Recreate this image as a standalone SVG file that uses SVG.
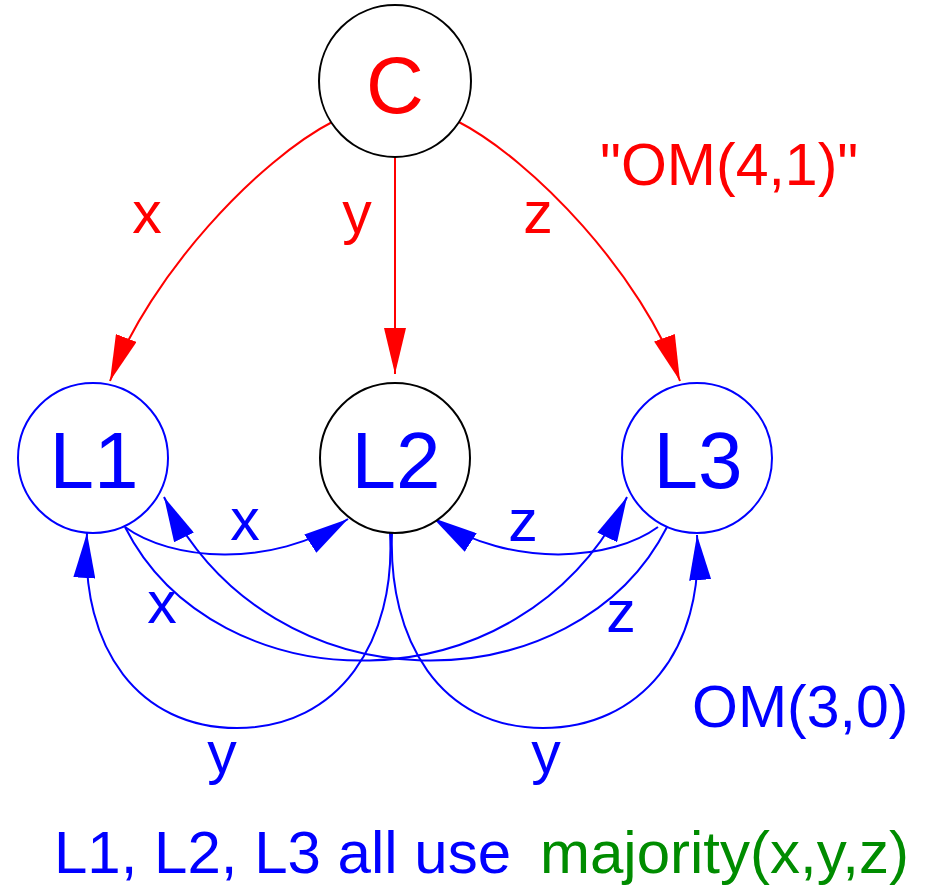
<svg xmlns="http://www.w3.org/2000/svg" width="927" height="887" viewBox="0 0 927 887">
<defs>
<style>
text{font-family:"Liberation Sans",Arial,sans-serif;}
.node{fill:#fff;stroke-width:2;}
.nl{font-size:80px;text-anchor:middle;}
.lbl{font-size:59px;text-anchor:middle;}
.red{fill:#ff0000;}
.blue{fill:#0000ff;}
.green{fill:#008c00;}
.er{fill:none;stroke:#ff0000;stroke-width:2;marker-end:url(#ar);}
.eb{fill:none;stroke:#0000ff;stroke-width:2;marker-end:url(#ab);}
</style>
<marker id="ar" markerUnits="userSpaceOnUse" viewBox="0 0 46 22" refX="46" refY="11" markerWidth="46" markerHeight="22" orient="auto"><path d="M0,0 L46,11 L0,22 z" fill="#ff0000"/></marker>
<marker id="ab" markerUnits="userSpaceOnUse" viewBox="0 0 45 22" refX="45" refY="11" markerWidth="45" markerHeight="22" orient="auto"><path d="M0,0 L45,11 L0,22 z" fill="#0000ff"/></marker>
</defs>
<rect width="927" height="887" fill="#fff"/>
<g id="connectors">
<path class="er" d="M334,121 C258,160 150,275 110,381"/>
<path class="er" d="M395,157 L395,374"/>
<path class="er" d="M457,121 C533,160 642,275 680,381"/>
<path class="eb" d="M125,527 C170,560 270,570 348,519"/>
<path class="eb" d="M658,527 C613,560 513,570 433,518"/>
<path class="eb" d="M125,527 C215,705 520,715 627,497"/>
<path class="eb" d="M667,527 C577,705 272,715 164,497"/>
<path class="eb" d="M390,533 C396,640 340,728 237,728 C140,728 80,650 87,533"/>
<path class="eb" d="M392,533 C388,640 440,728 543,728 C640,728 705,650 697,535"/>
</g>
<g id="C"><circle class="node" cx="395" cy="81" r="76" stroke="#000"/><text class="nl red" x="395" y="113">C</text></g>
<g id="L1"><circle class="node" cx="93" cy="458" r="75" stroke="#0000ff"/><text class="nl blue" x="94" y="488">L1</text></g>
<g id="L2"><circle class="node" cx="395" cy="458" r="75" stroke="#000"/><text class="nl blue" x="396" y="488">L2</text></g>
<g id="L3"><circle class="node" cx="697" cy="458" r="75" stroke="#0000ff"/><text class="nl blue" x="698" y="488">L3</text></g>
<g id="labels">
<text class="lbl red" x="147" y="233">x</text>
<text class="lbl red" x="357" y="233">y</text>
<text class="lbl red" x="538" y="233">z</text>
<text class="red" x="600" y="185" font-size="59">"OM(4,1)"</text>
<text class="lbl blue" x="245" y="540">x</text>
<text class="lbl blue" x="162" y="623">x</text>
<text class="lbl blue" x="523" y="541">z</text>
<text class="lbl blue" x="621" y="632">z</text>
<text class="lbl blue" x="222" y="773">y</text>
<text class="lbl blue" x="546" y="773">y</text>
<text class="blue" x="692" y="727" font-size="59">OM(3,0)</text>
<text class="blue" x="54" y="873" font-size="60">L1, L2, L3 all use</text>
<text class="green" x="540" y="873" font-size="60">majority(x,y,z)</text>
</g>
</svg>
